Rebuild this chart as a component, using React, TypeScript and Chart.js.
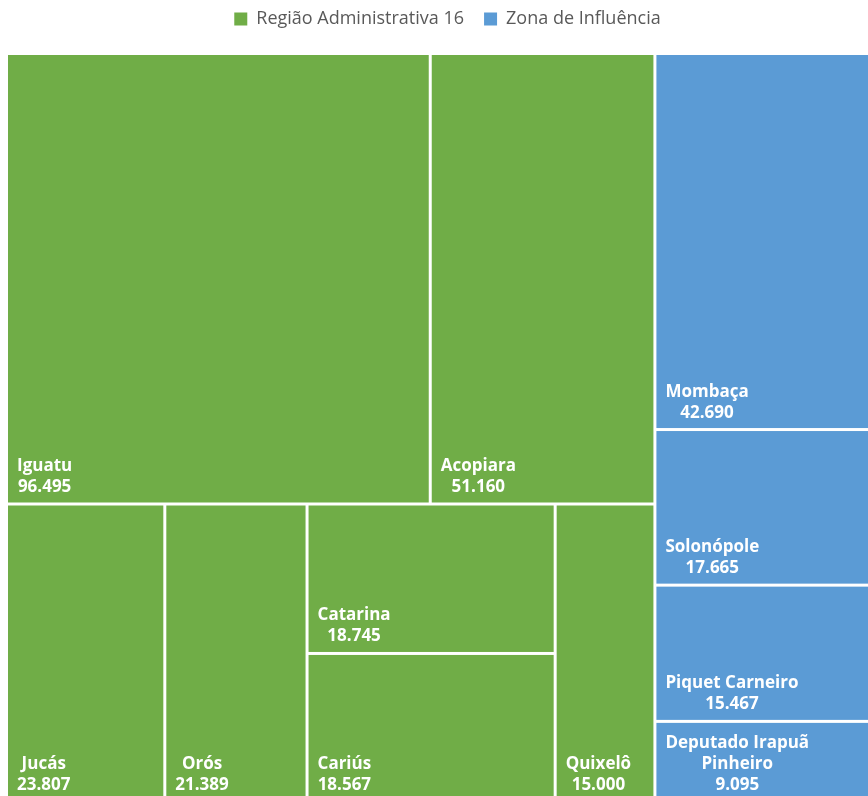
import React, { useEffect, useRef } from 'react';
import { Chart, registerables } from 'chart.js';

Chart.register(...registerables);

// ---- data ----
const groupLabels = ['Região Administrativa 16', 'Zona de Influência'];
const groupColors = ['#70AD47', '#5B9BD5'];

const ra16Municipios = ['Iguatu', 'Acopiara', 'Jucás', 'Orós', 'Catarina', 'Cariús', 'Quixelô'];
const ra16Populacao = [96495, 51160, 23807, 21389, 18745, 18567, 15000];

const ziMunicipios = ['Mombaça', 'Solonópole', 'Piquet Carneiro', 'Deputado Irapuã Pinheiro'];
const ziPopulacao = [42690, 17665, 15467, 9095];

// tile arrangement (hierarchy of indices into the arrays above)
const ra16Arrangement: any = ['rows', ['cols', 0, 1], ['cols', 2, 3, ['rows', 4, 5], 6]];
const ziArrangement: any = ['rows', 0, 1, 2, 3];

// ---- helpers ----
const GAP = 3;
const PAD_X = 9;
const PAD_BOTTOM = 10.5;
const LINE_H = 21;
const LABEL_FONT = '700 17px "Open Sans", "DejaVu Sans", sans-serif';

function formatPt(v: number): string {
  const s = String(Math.round(v));
  return s.replace(/\B(?=(\d{3})+(?!\d))/g, '.');
}

function nodeSum(node: any, values: number[]): number {
  if (typeof node === 'number') return values[node];
  let s = 0;
  for (let i = 1; i < node.length; i++) s += nodeSum(node[i], values);
  return s;
}

function layoutNode(node: any, values: number[], x: number, y: number, w: number, h: number, out: any[]) {
  if (typeof node === 'number') {
    out.push({ index: node, x, y, w, h });
    return;
  }
  const dir = node[0];
  const total = nodeSum(node, values);
  let pos = 0;
  for (let i = 1; i < node.length; i++) {
    const f = nodeSum(node[i], values) / total;
    if (dir === 'cols') {
      layoutNode(node[i], values, x + pos * w, y, f * w, h, out);
    } else {
      layoutNode(node[i], values, x, y + pos * h, w, f * h, out);
    }
    pos += f;
  }
}

function wrapText(ctx: CanvasRenderingContext2D, text: string, maxW: number): string[] {
  const words = text.split(' ');
  const lines: string[] = [];
  let cur = '';
  for (const w of words) {
    const test = cur ? cur + ' ' + w : w;
    if (ctx.measureText(test).width > maxW && cur) {
      lines.push(cur);
      cur = w;
    } else {
      cur = test;
    }
  }
  if (cur) lines.push(cur);
  return lines;
}

const treemapPlugin = {
  id: 'treemapTiles',
  afterDatasetsDraw(chart: any) {
    const { ctx } = chart;
    const xs = chart.scales.x;
    const ys = chart.scales.y;
    const datasets = chart.data.datasets;
    const totals = datasets.map((ds: any) => ds.populacao.reduce((a: number, b: number) => a + b, 0));
    const total = totals.reduce((a: number, b: number) => a + b, 0);
    let gx = 0;
    ctx.save();
    datasets.forEach((ds: any, gi: number) => {
      const gw = totals[gi] / total;
      const rects: any[] = [];
      layoutNode(ds.arrangement, ds.populacao, gx, 0, gw, 1, rects);
      gx += gw;
      rects.forEach((r) => {
        const left = xs.getPixelForValue(r.x) + GAP / 2;
        const right = xs.getPixelForValue(r.x + r.w) - GAP / 2;
        const top = ys.getPixelForValue(r.y) + GAP / 2;
        const bottom = ys.getPixelForValue(r.y + r.h) - GAP / 2;
        ctx.fillStyle = ds.backgroundColor;
        ctx.fillRect(left, top, right - left, bottom - top);

        ctx.font = LABEL_FONT;
        ctx.fillStyle = '#FFFFFF';
        ctx.textBaseline = 'alphabetic';
        ctx.textAlign = 'center';
        const maxW = right - left - PAD_X * 2;
        const lines = wrapText(ctx, ds.municipios[r.index], maxW);
        lines.push(formatPt(ds.populacao[r.index]));
        const blockW = Math.max(...lines.map((l) => ctx.measureText(l).width));
        const cx = left + PAD_X + blockW / 2;
        const lastBase = bottom - PAD_BOTTOM;
        lines.forEach((l, li) => {
          ctx.fillText(l, cx, lastBase - (lines.length - 1 - li) * LINE_H);
        });
      });
    });
    ctx.restore();
  },
};

const LEGEND_PAD = 20;

const legendSpacer = {
  id: 'legendSpacer',
  beforeInit(chart: any) {
    const legend = chart.legend;
    if (!legend) return;
    const fit = legend.fit;
    legend.fit = function () {
      fit.call(this);
      this.height = 53.5;
    };
  },
  afterLayout(chart: any) {
    const legend = chart.legend;
    if (!legend) return;
    legend.left += 4.5;
    legend.right += 4.5;
    legend.top -= LEGEND_PAD - 10;
  },
};

const CANVAS_W = 890;
const CANVAS_H = 820;

export default function App() {
  const ref = useRef<HTMLCanvasElement | null>(null);

  useEffect(() => {
    if (!ref.current) return;
    const chart = new Chart(ref.current, {
      type: 'scatter',
      data: {
        datasets: [
          {
            label: groupLabels[0],
            data: [],
            backgroundColor: groupColors[0],
            borderColor: groupColors[0],
            borderWidth: 0,
            municipios: ra16Municipios,
            populacao: ra16Populacao,
            arrangement: ra16Arrangement,
          } as any,
          {
            label: groupLabels[1],
            data: [],
            backgroundColor: groupColors[1],
            borderColor: groupColors[1],
            borderWidth: 0,
            municipios: ziMunicipios,
            populacao: ziPopulacao,
            arrangement: ziArrangement,
          } as any,
        ],
      },
      options: {
        responsive: false,
        animation: false,
        layout: { padding: { left: 6.5, right: CANVAS_W - 6.5 - 873, top: 0, bottom: CANVAS_H - 801.5 } },
        scales: {
          x: { type: 'linear', min: 0, max: 1, display: false },
          y: { type: 'linear', min: 0, max: 1, reverse: true, display: false },
        },
        plugins: {
          tooltip: { enabled: false },
          legend: {
            position: 'top',
            labels: {
              boxWidth: 13,
              boxHeight: 13,
              padding: LEGEND_PAD,
              color: '#595959',
              font: { family: '"Open Sans", "DejaVu Sans", sans-serif', size: 18 },
            },
          },
        },
      },
      plugins: [legendSpacer, treemapPlugin],
    } as any);
    return () => chart.destroy();
  }, []);

  return (
    <div
      style={{
        position: 'fixed',
        left: 0,
        top: 0,
        width: 868,
        height: 796,
        overflow: 'hidden',
        background: '#ffffff',
      }}
    >
      <canvas
        ref={ref}
        width={CANVAS_W}
        height={CANVAS_H}
        style={{ position: 'absolute', left: 0, top: 0, width: CANVAS_W, height: CANVAS_H }}
      />
    </div>
  );
}
